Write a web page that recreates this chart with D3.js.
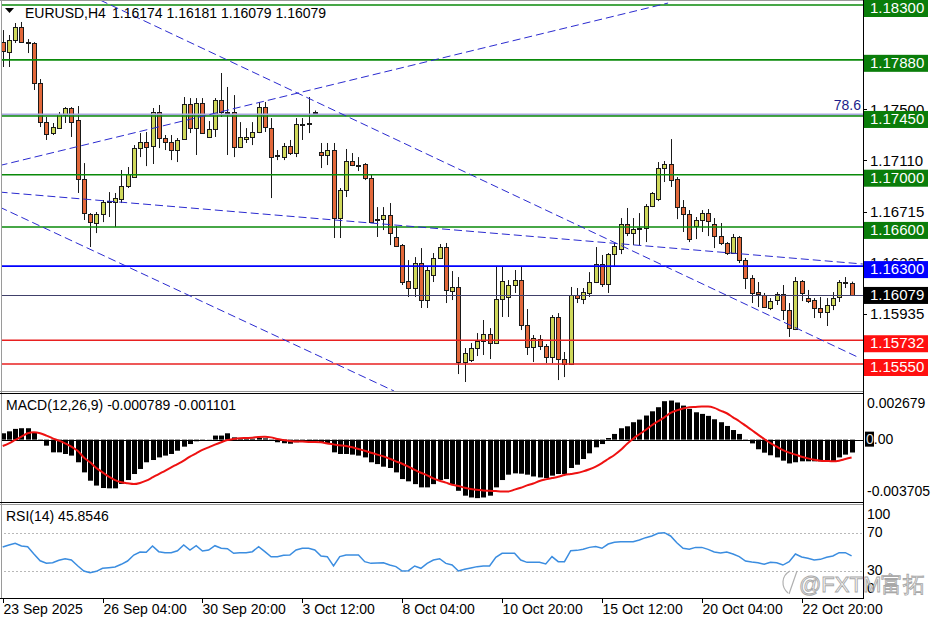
<!DOCTYPE html>
<html><head><meta charset="utf-8">
<script src="https://cdn.jsdelivr.net/npm/d3@7"></script>
<style>
body{margin:0;background:#fff;}
svg{display:block;}
text{font-family:"Liberation Sans",Arial,sans-serif;}
</style>
</head><body><svg id="c" width="936" height="624"></svg>
<script>
// ---------- DATA ----------
const symbol = "EURUSD,H4";
const open = [1.18016,1.17940,1.18032,1.18131,1.18016,1.18009,1.17702,1.17403,1.17319,1.17357,1.17457,1.17511,1.17419,1.16967,1.16699,1.16630,1.16699,1.16791,1.16791,1.16814,1.16913,1.16982,1.17204,1.17250,1.17220,1.17480,1.17281,1.17250,1.17189,1.17273,1.17541,1.17357,1.17549,1.17289,1.17350,1.17572,1.17480,1.17480,1.17212,1.17273,1.17289,1.17327,1.17518,1.17357,1.17151,1.17135,1.17220,1.17166,1.17388,1.17388,1.17470,1.17174,1.17151,1.17189,1.16668,1.16883,1.17105,1.17074,1.17082,1.16975,1.16660,1.16660,1.16691,1.16523,1.16461,1.16185,1.16132,1.16323,1.16040,1.16231,1.16362,1.16446,1.16109,1.16140,1.15565,1.15580,1.15672,1.15726,1.15780,1.15711,1.16048,1.16063,1.16155,1.16193,1.15849,1.15680,1.15741,1.15688,1.15603,1.15910,1.15588,1.15549,1.16078,1.16048,1.16094,1.16178,1.16316,1.16163,1.16392,1.16431,1.16622,1.16553,1.16584,1.16591,1.16760,1.16814,1.17051,1.17082,1.16967,1.16752,1.16699,1.16607,1.16653,1.16706,1.16622,1.16530,1.16477,1.16400,1.16523,1.16346,1.16208,1.16101,1.16078,1.15979,1.16040,1.16086,1.15963,1.15818,1.16185,1.16055,1.16040,1.15979,1.15948,1.16002,1.16063,1.16170,1.16174];
const high = [1.18108,1.18070,1.18162,1.18170,1.18039,1.18016,1.17733,1.17442,1.17396,1.17480,1.17518,1.17518,1.17526,1.17089,1.16706,1.16714,1.16806,1.16867,1.16860,1.17036,1.17059,1.17227,1.17319,1.17327,1.17511,1.17534,1.17304,1.17304,1.17281,1.17595,1.17587,1.17587,1.17587,1.17411,1.17587,1.17779,1.17672,1.17610,1.17403,1.17357,1.17403,1.17557,1.17557,1.17434,1.17189,1.17243,1.17266,1.17434,1.17434,1.17595,1.17492,1.17243,1.17243,1.17243,1.16898,1.17197,1.17166,1.17135,1.17089,1.16998,1.16752,1.16752,1.16783,1.16607,1.16469,1.16346,1.16369,1.16438,1.16293,1.16400,1.16469,1.16477,1.16262,1.16216,1.15672,1.15711,1.15787,1.15887,1.15825,1.16293,1.16293,1.16193,1.16270,1.16293,1.15971,1.15772,1.15772,1.15703,1.15925,1.15940,1.15642,1.16140,1.16132,1.16132,1.16254,1.16446,1.16385,1.16400,1.16477,1.16668,1.16745,1.16668,1.16706,1.16775,1.16867,1.17097,1.17105,1.17273,1.16982,1.16806,1.16729,1.16676,1.16729,1.16737,1.16668,1.16630,1.16484,1.16546,1.16530,1.16362,1.16231,1.16178,1.16094,1.16055,1.16101,1.16155,1.16017,1.16216,1.16193,1.16117,1.16055,1.16063,1.16055,1.16101,1.16193,1.16216,1.16181];
const low = [1.17825,1.17825,1.18009,1.18009,1.17932,1.17649,1.17365,1.17266,1.17304,1.17350,1.17396,1.17289,1.16860,1.16653,1.16446,1.16553,1.16637,1.16676,1.16599,1.16783,1.16898,1.16975,1.17135,1.17066,1.17082,1.17204,1.17189,1.17112,1.17097,1.17266,1.17319,1.17151,1.17312,1.17281,1.17289,1.17442,1.17151,1.17135,1.17204,1.17243,1.17227,1.17319,1.17327,1.16821,1.17112,1.17112,1.17151,1.17135,1.17266,1.17319,1.17462,1.17051,1.17074,1.16515,1.16515,1.16829,1.17066,1.17028,1.16959,1.16630,1.16523,1.16576,1.16461,1.16446,1.16155,1.16063,1.16063,1.15979,1.15979,1.16178,1.16354,1.16017,1.16040,1.15473,1.15412,1.15565,1.15611,1.15619,1.15588,1.15703,1.15910,1.15910,1.16094,1.15810,1.15619,1.15565,1.15657,1.15557,1.15557,1.15427,1.15450,1.15542,1.16017,1.16009,1.16063,1.16170,1.16140,1.16094,1.16293,1.16392,1.16530,1.16461,1.16461,1.16484,1.16752,1.16798,1.16944,1.16906,1.16660,1.16561,1.16484,1.16507,1.16561,1.16530,1.16438,1.16461,1.16385,1.16395,1.16323,1.16124,1.16017,1.15986,1.15979,1.15963,1.16002,1.15887,1.15757,1.15810,1.16032,1.16017,1.15902,1.15902,1.15841,1.15963,1.16025,1.16132,1.16079];
const close = [1.17947,1.18032,1.18131,1.18016,1.18010,1.17702,1.17403,1.17312,1.17365,1.17465,1.17511,1.17403,1.16967,1.16706,1.16637,1.16699,1.16791,1.16795,1.16821,1.16913,1.17005,1.17204,1.17250,1.17212,1.17480,1.17281,1.17250,1.17189,1.17266,1.17541,1.17357,1.17549,1.17319,1.17350,1.17572,1.17480,1.17475,1.17212,1.17289,1.17289,1.17327,1.17518,1.17365,1.17135,1.17143,1.17220,1.17166,1.17388,1.17392,1.17395,1.17478,1.17151,1.17189,1.16668,1.16883,1.17105,1.17074,1.17070,1.16975,1.16637,1.16655,1.16691,1.16553,1.16454,1.16178,1.16132,1.16323,1.16040,1.16270,1.16362,1.16446,1.16117,1.16140,1.15565,1.15634,1.15672,1.15726,1.15780,1.15711,1.16048,1.16185,1.16155,1.16193,1.15849,1.15680,1.15749,1.15688,1.15603,1.15910,1.15588,1.15549,1.16078,1.16055,1.16101,1.16178,1.16316,1.16163,1.16392,1.16454,1.16622,1.16553,1.16584,1.16591,1.16760,1.16860,1.17051,1.17082,1.16959,1.16752,1.16699,1.16507,1.16653,1.16706,1.16645,1.16530,1.16477,1.16400,1.16523,1.16346,1.16208,1.16094,1.16086,1.15986,1.16032,1.16086,1.15963,1.15825,1.16185,1.16094,1.16032,1.15979,1.15948,1.16002,1.16055,1.16178,1.16175,1.16079];

const macdMain = [0.00039,0.00051,0.00066,0.00070,0.00070,0.00045,-0.00003,-0.00037,-0.00078,-0.00078,-0.00088,-0.00098,-0.00139,-0.00201,-0.00252,-0.00282,-0.00297,-0.00299,-0.00299,-0.00272,-0.00248,-0.00211,-0.00180,-0.00139,-0.00125,-0.00109,-0.00098,-0.00088,-0.00068,-0.00043,-0.00027,-0.00010,-0.00002,0.00001,0.00025,0.00025,0.00039,0.00014,0.00004,0.00004,0.00006,0.00010,0.00008,-0.00006,-0.00016,-0.00022,-0.00025,-0.00016,-0.00012,-0.00012,-0.00010,-0.00016,-0.00027,-0.00078,-0.00088,-0.00088,-0.00092,-0.00098,-0.00109,-0.00139,-0.00150,-0.00166,-0.00174,-0.00201,-0.00242,-0.00256,-0.00273,-0.00293,-0.00293,-0.00273,-0.00248,-0.00242,-0.00273,-0.00314,-0.00344,-0.00355,-0.00359,-0.00355,-0.00344,-0.00293,-0.00248,-0.00215,-0.00207,-0.00209,-0.00215,-0.00226,-0.00232,-0.00236,-0.00221,-0.00211,-0.00211,-0.00174,-0.00154,-0.00119,-0.00084,-0.00047,-0.00027,0.00010,0.00035,0.00070,0.00082,0.00107,0.00123,0.00148,0.00174,0.00199,0.00236,0.00240,0.00228,0.00209,0.00189,0.00168,0.00158,0.00146,0.00125,0.00107,0.00084,0.00059,0.00035,0.00002,-0.00023,-0.00059,-0.00080,-0.00096,-0.00109,-0.00129,-0.00146,-0.00139,-0.00133,-0.00133,-0.00133,-0.00133,-0.00129,-0.00133,-0.00109,-0.00092,-0.000789];
const macdSignal = [-0.00039,-0.00023,-0.00002,0.00018,0.00039,0.00045,0.00039,0.00025,0.00008,-0.00006,-0.00023,-0.00043,-0.00068,-0.00109,-0.00139,-0.00174,-0.00201,-0.00227,-0.00248,-0.00262,-0.00268,-0.00273,-0.00266,-0.00252,-0.00232,-0.00211,-0.00191,-0.00170,-0.00150,-0.00129,-0.00104,-0.00084,-0.00063,-0.00047,-0.00031,-0.00016,-0.00002,0.00004,0.00008,0.00010,0.00012,0.00016,0.00018,0.00014,0.00004,-0.00002,-0.00008,-0.00012,-0.00012,-0.00014,-0.00014,-0.00016,-0.00023,-0.00029,-0.00035,-0.00039,-0.00047,-0.00057,-0.00068,-0.00080,-0.00092,-0.00103,-0.00117,-0.00133,-0.00148,-0.00166,-0.00185,-0.00203,-0.00219,-0.00238,-0.00252,-0.00264,-0.00277,-0.00285,-0.00295,-0.00303,-0.00307,-0.00312,-0.00314,-0.00316,-0.00318,-0.00318,-0.00307,-0.00295,-0.00281,-0.00269,-0.00254,-0.00244,-0.00236,-0.00228,-0.00217,-0.00211,-0.00205,-0.00195,-0.00182,-0.00166,-0.00144,-0.00119,-0.00094,-0.00064,-0.00027,0.00006,0.00033,0.00059,0.00088,0.00113,0.00137,0.00164,0.00180,0.00191,0.00199,0.00201,0.00203,0.00203,0.00195,0.00178,0.00162,0.00137,0.00113,0.00086,0.00059,0.00031,0.00004,-0.00021,-0.00043,-0.00064,-0.00080,-0.00092,-0.00105,-0.00115,-0.00123,-0.00129,-0.00131,-0.00133,-0.00129,-0.00119,-0.001101];
const rsi = [55.4,57.5,59.4,56.5,55.7,47.9,40.7,38.0,38.6,41.2,42.9,41.5,35.4,29.7,27.9,29.4,32.6,33.3,34.0,36.9,40.4,46.8,50.1,49.7,56.5,50.4,49.3,49.3,51.4,57.5,52.2,56.8,51.1,52.2,56.8,54.0,53.6,48.7,49.3,49.3,50.4,55.7,50.4,45.0,45.0,46.5,46.8,52.2,54.0,54.0,52.2,45.8,45.1,35.1,45.1,46.8,46.8,46.8,39.7,37.9,38.3,38.6,36.1,34.4,29.7,30.1,35.1,32.6,37.9,41.5,42.9,37.9,36.1,29.7,31.5,32.9,34.4,35.1,35.1,44.4,48.6,48.6,48.6,41.5,39.0,39.0,39.0,37.2,45.1,39.7,39.7,51.5,51.8,52.9,55.0,55.8,54.0,58.6,60.4,61.1,61.1,61.1,62.9,65.4,67.2,70.0,70.7,67.2,60.0,54.0,52.9,55.0,55.0,52.9,50.1,49.0,50.1,47.9,45.1,40.4,39.4,38.6,36.9,39.0,38.6,36.1,39.7,47.9,44.7,43.3,41.5,42.2,44.4,45.8,49.3,49.3,45.8546];

const timeTickIndex = [0,16,32,48,64,80,96,112,128];
const timeTickLabels = ["23 Sep 2025","26 Sep 04:00","30 Sep 20:00","3 Oct 12:00","8 Oct 04:00","10 Oct 20:00","15 Oct 12:00","20 Oct 04:00","22 Oct 20:00"];
const priceTicks = [1.17500,1.17110,1.16715,1.16325,1.15935];
const levelPrices = [1.18300,1.17880,1.17450,1.17000,1.16600,1.16300,1.15732,1.15550];
const levelKinds  = ["res","res","res","res","res","pivot","sup","sup"];
const fibPrice = 1.17462, fibText = "78.6";
// trend lines as [barIndex, price] pairs
const trendLines = [
  [[-0.5,1.17070],[106.6,1.18315]],
  [[15.6,1.18338],[137.3,1.15596]],
  [[-0.5,1.16867],[137.8,1.16316]],
  [[-0.5,1.16752],[62.7,1.15343]]
];
const macdTicks = [0.002679, 0, -0.003705];
const rsiLevels = [70, 30];
const rsiTickLabels = [100,70,30,0];

// ---------- DRAW ----------
const svg = d3.select("#c");
const W = 863;
const n = close.length;
const x = d3.scaleLinear().domain([0, n-1]).range([2.7, 851.6]);
const y = d3.scaleLinear().domain([1.1555, 1.1830]).range([364, 5]);
const ym = d3.scaleLinear().domain([-0.003705, 0.002679]).range([500, 396]);
const yr = d3.scaleLinear().domain([0, 100]).range([598.8, 505.3]);

svg.append("rect").attr("width",936).attr("height",624).attr("fill","#fff");
const defs = svg.append("defs");
defs.append("clipPath").attr("id","mainClip").append("rect").attr("x",1).attr("y",1).attr("width",W-1).attr("height",390);
defs.append("clipPath").attr("id","macdClip").append("rect").attr("x",1).attr("y",395).attr("width",W-1).attr("height",107);
defs.append("clipPath").attr("id","rsiClip").append("rect").attr("x",1).attr("y",505).attr("width",W-1).attr("height",93);

// ---- main panel ----
const main = svg.append("g").attr("clip-path","url(#mainClip)");
const idx = d3.range(n);
const cx = i => Math.round(x(i)) + 0.5;
const bullCol = "#cfd85a", bearCol = "#e2683a";
main.selectAll("line.wick").data(idx).join("line")
  .attr("x1",cx).attr("x2",cx)
  .attr("y1",i=>y(high[i])).attr("y2",i=>y(low[i]))
  .attr("stroke","#1a1a1a").attr("stroke-width",1);
main.selectAll("rect.body").data(idx).join("rect")
  .attr("x",i=>cx(i)-2).attr("width",4)
  .attr("y",i=>Math.round(y(Math.max(open[i],close[i])))+0.5)
  .attr("height",i=>Math.max(1, Math.round(Math.abs(y(open[i])-y(close[i])))))
  .attr("fill",i=>close[i]>=open[i]?bullCol:bearCol)
  .attr("stroke","#1a1a1a").attr("stroke-width",1);

// fib line
main.append("line").attr("x1",0).attr("x2",W).attr("y1",y(fibPrice)).attr("y2",y(fibPrice))
  .attr("stroke","#a8a8e0").attr("stroke-width",2);
// level lines
const kindColor = {res:"#0a8a0a", pivot:"#0000ff", sup:"#e82020"};
levelPrices.forEach((p,k)=>{
  main.append("line").attr("x1",0).attr("x2",W).attr("y1",y(p)).attr("y2",y(p))
    .attr("stroke",kindColor[levelKinds[k]]).attr("stroke-width", 1.6);
});
// last price line
main.append("line").attr("x1",0).attr("x2",W).attr("y1",Math.round(y(close[n-1]))+0.5).attr("y2",Math.round(y(close[n-1]))+0.5)
  .attr("stroke","#40406a").attr("stroke-width",1);
// trend lines
trendLines.forEach(seg=>{
  main.append("line")
    .attr("x1",x(seg[0][0])).attr("y1",y(seg[0][1]))
    .attr("x2",x(seg[1][0])).attr("y2",y(seg[1][1]))
    .attr("stroke","#2b2bd0").attr("stroke-width",1).attr("stroke-dasharray","8,4");
});
svg.append("text").attr("x",861).attr("y",106.5).attr("text-anchor","end").attr("dominant-baseline","middle")
  .attr("font-size",14).attr("fill","#1c1c8a").text(fibText);

// title
svg.append("path").attr("d","M5,8 L14,8 L9.5,13 Z").attr("fill","#000");
svg.append("text").attr("x",25).attr("y",18).attr("font-size",14).attr("fill","#000").text(symbol);
svg.append("text").attr("x",112).attr("y",18).attr("font-size",14).attr("fill","#000")
  .text([open[n-1],high[n-1],low[n-1],close[n-1]].map(v=>v.toFixed(5)).join(" "));

// ---- MACD panel ----
const mg = svg.append("g").attr("clip-path","url(#macdClip)");
mg.append("line").attr("x1",0).attr("x2",W).attr("y1",Math.round(ym(0))+0.5).attr("y2",Math.round(ym(0))+0.5)
  .attr("stroke","#000").attr("stroke-width",1);
mg.selectAll("rect.h").data(idx).join("rect")
  .attr("x",i=>Math.round(x(i))-2).attr("width",5)
  .attr("y",i=>Math.min(ym(0),ym(macdMain[i])))
  .attr("height",i=>Math.abs(ym(macdMain[i])-ym(0)))
  .attr("fill","#000");
mg.append("path").datum(idx).attr("fill","none").attr("stroke","#ee1111").attr("stroke-width",2)
  .attr("d",d3.line().x(i=>x(i)).y(i=>ym(macdSignal[i])).curve(d3.curveMonotoneX));
svg.append("text").attr("x",6).attr("y",406).attr("dominant-baseline","middle").attr("font-size",14)
  .text(`MACD(12,26,9) ${macdMain[n-1].toFixed(6)} ${macdSignal[n-1].toFixed(6)}`);

// ---- RSI panel ----
const rg = svg.append("g").attr("clip-path","url(#rsiClip)");
rsiLevels.forEach(v=>{
  rg.append("line").attr("x1",0).attr("x2",W).attr("y1",Math.round(yr(v))+0.5).attr("y2",Math.round(yr(v))+0.5)
    .attr("stroke","#b8b8b8").attr("stroke-width",1).attr("stroke-dasharray","2,2");
});
rg.append("path").datum(idx).attr("fill","none").attr("stroke","#3b8de0").attr("stroke-width",1.5)
  .attr("d",d3.line().x(i=>x(i)).y(i=>yr(rsi[i])));
svg.append("text").attr("x",6).attr("y",517).attr("dominant-baseline","middle").attr("font-size",14)
  .text(`RSI(14) ${rsi[n-1].toFixed(4)}`);

// ---- frames ----
const fr = svg.append("g");
fr.append("line").attr("x1",0).attr("x2",W).attr("y1",0.5).attr("y2",0.5).attr("stroke","#9a9a9a");
fr.append("line").attr("x1",1.5).attr("x2",1.5).attr("y1",0).attr("y2",598).attr("stroke","#9a9a9a");
fr.append("line").attr("x1",0).attr("x2",W).attr("y1",391.5).attr("y2",391.5).attr("stroke","#9a9a9a");
fr.append("line").attr("x1",0).attr("x2",W).attr("y1",393.5).attr("y2",393.5).attr("stroke","#000");
fr.append("line").attr("x1",0).attr("x2",W).attr("y1",502.5).attr("y2",502.5).attr("stroke","#000");
fr.append("line").attr("x1",0).attr("x2",W).attr("y1",504.5).attr("y2",504.5).attr("stroke","#9a9a9a");
fr.append("line").attr("x1",0).attr("x2",W+1).attr("y1",598.5).attr("y2",598.5).attr("stroke","#000");
fr.append("line").attr("x1",W+0.5).attr("x2",W+0.5).attr("y1",0).attr("y2",599).attr("stroke","#000");

// ---- price axis ----
const ax = svg.append("g");
priceTicks.forEach(p=>{
  const yy = y(p);
  ax.append("line").attr("x1",W).attr("x2",W+4).attr("y1",Math.round(yy)+0.5).attr("y2",Math.round(yy)+0.5).attr("stroke","#000");
  ax.append("text").attr("x",W+7).attr("y",yy+1.5).attr("dominant-baseline","middle").attr("font-size",15).text(p.toFixed(5));
});
const boxColor = {res:"#0a7d0a", pivot:"#0000ff", sup:"#ff1010"};
function priceBox(p, col, off){
  const yy = y(p);
  ax.append("rect").attr("x",W+1).attr("y",yy-off).attr("width",64).attr("height",17).attr("fill",col);
  ax.append("text").attr("x",W+7).attr("y",yy-off+9).attr("dominant-baseline","middle").attr("font-size",15)
    .attr("fill","#fff").text(p.toFixed(5));
}
levelPrices.forEach((p,k)=>priceBox(p, boxColor[levelKinds[k]], 5));
priceBox(close[n-1], "#000", 8);

// MACD axis
[[macdTicks[0],404],[macdTicks[2],492]].forEach(([v,yy])=>{
  ax.append("text").attr("x",W+4).attr("y",yy).attr("dominant-baseline","middle").attr("font-size",14).text(v.toFixed(6));
});
ax.append("rect").attr("x",W+2).attr("y",ym(0)-8).attr("width",9).attr("height",15).attr("fill","#000");
const zt = ax.append("text").attr("x",W+3).attr("y",ym(0)).attr("dominant-baseline","middle").attr("font-size",14);
zt.append("tspan").attr("fill","#ddd").text("0");
zt.append("tspan").attr("fill","#000").text(".00");

// RSI axis
const rsiLabelY = {100:515, 70:533.5, 30:571, 0:589};
rsiTickLabels.forEach(v=>{
  ax.append("text").attr("x",W+4).attr("y",rsiLabelY[v]).attr("dominant-baseline","middle").attr("font-size",14).text(v);
});

// ---- time axis ----
timeTickIndex.forEach((ti,k)=>{
  const xx = Math.round(x(ti))+0.5;
  ax.append("line").attr("x1",xx).attr("x2",xx).attr("y1",598).attr("y2",603).attr("stroke","#000");
  ax.append("text").attr("x",xx).attr("y",610).attr("dominant-baseline","middle").attr("font-size",14).text(timeTickLabels[k]);
});

// ---- watermark ----
const wm = svg.append("g").attr("fill","none").attr("stroke","#b0b0b0").attr("stroke-width",1.2);
wm.append("path").attr("d","M788,593 C781,587 781,576 790,571");
wm.append("path").attr("d","M797,571 L789,594");
svg.append("text").attr("x",799).attr("y",592).attr("font-size",22)
  .attr("font-family","\"Noto Sans CJK SC\",\"Liberation Sans\",sans-serif")
  .attr("fill","rgba(255,255,255,0.35)").attr("stroke","#a8a8a8").attr("stroke-width",0.9)
  .text("@FXTM富拓");
</script>
</body></html>
